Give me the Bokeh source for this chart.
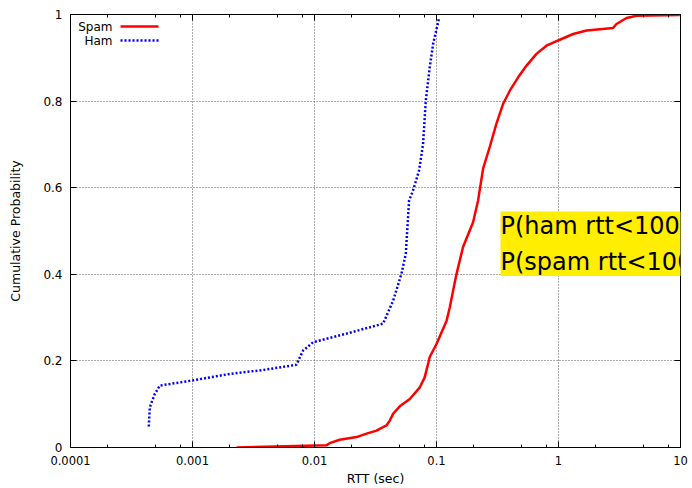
import numpy as np
from bokeh.plotting import figure
from bokeh.models import FixedTicker, LogAxis, LinearAxis, Label, Arrow, Range1d
from bokeh.embed import file_html
from bokeh.resources import INLINE

# ---- data ----
spam_rtt = [0.0023, 0.0125, 0.0133, 0.0161, 0.0221, 0.0267, 0.0322, 0.0389, 0.0414,
            0.0441, 0.050, 0.0604, 0.073, 0.080, 0.0853, 0.088, 0.1, 0.121, 0.1286,
            0.137, 0.146, 0.165, 0.1995, 0.219, 0.241, 0.273, 0.310, 0.352, 0.399,
            0.467, 0.547, 0.660, 0.797, 0.993, 1.318, 1.70, 2.80, 2.99, 3.61, 4.36, 9.87]
spam_cdf = [0.0, 0.005, 0.010, 0.018, 0.024, 0.032, 0.039, 0.051, 0.062,
            0.078, 0.095, 0.112, 0.139, 0.162, 0.193, 0.209, 0.239, 0.293, 0.324,
            0.363, 0.401, 0.463, 0.520, 0.570, 0.644, 0.694, 0.748, 0.794, 0.824,
            0.855, 0.882, 0.909, 0.928, 0.940, 0.955, 0.963, 0.969, 0.978, 0.992, 0.997, 0.999]

ham_rtt = [4.38e-4, 4.47e-4, 4.91e-4, 5.4e-4, 1.01e-3, 2.02e-3, 3.79e-3, 7.1e-3, 8.07e-3,
           9.75e-3, 0.0183, 0.0365, 0.0441, 0.0516, 0.056, 0.0596, 0.0643, 0.072,
           0.0776, 0.0817, 0.088, 0.0938, 0.105]
ham_cdf = [0.0485, 0.093, 0.124, 0.143, 0.155, 0.170, 0.179, 0.191, 0.224,
           0.243, 0.263, 0.286, 0.339, 0.401, 0.447, 0.570, 0.594, 0.640,
           0.701, 0.801, 0.878, 0.932, 0.992]

x_ticks = [1e-4, 1e-3, 1e-2, 1e-1, 1, 10]
x_tick_labels = ["0.0001", "0.001", "0.01", "0.1", "1", "10"]
x_minor = [m * d for d in [1e-4, 1e-3, 1e-2, 1e-1, 1] for m in (2, 5, 8)]
y_ticks = [0, 0.2, 0.4, 0.6, 0.8, 1]
y_tick_labels = ["0", "0.2", "0.4", "0.6", "0.8", "1"]

series_names = ["Spam", "Ham"]
note_text = "P(ham rtt<100ms) = 0.98\nP(spam rtt<100ms) = 0.24"

FONT = "DejaVu Sans"

p = figure(width=692, height=488, x_axis_type="log",
           x_range=Range1d(1e-4, 10), y_range=Range1d(0, 1),
           output_backend="svg", toolbar_location=None,
           min_border_left=70, min_border_right=12, min_border_top=14, min_border_bottom=41,
           background_fill_color="white", border_fill_color="white")
p.outline_line_color = "black"
p.outline_line_width = 1
p.outline_line_alpha = 1

xt = FixedTicker(ticks=x_ticks, minor_ticks=x_minor)
yt = FixedTicker(ticks=y_ticks, minor_ticks=[])

def style_axis(ax, labels=True):
    ax.axis_line_color = "black"
    ax.major_tick_in = 6
    ax.major_tick_out = 0
    ax.minor_tick_in = 3
    ax.minor_tick_out = 0
    ax.major_tick_line_color = "black"
    ax.minor_tick_line_color = "black"
    ax.major_label_text_font = FONT
    ax.major_label_text_font_size = "11.5px" if labels else "1px"
    ax.major_label_text_color = "black"
    if not labels:
        ax.major_label_text_alpha = 0
    ax.axis_label_text_font = FONT
    ax.axis_label_text_font_size = "12.5px"
    ax.axis_label_text_font_style = "normal"
    ax.axis_label_text_color = "black"

xa = p.xaxis[0]
xa.ticker = xt
xa.major_label_overrides = {t: l for t, l in zip(x_ticks, x_tick_labels)}
xa.axis_label = "RTT (sec)"
style_axis(xa)
xa.major_label_standoff = 8
xa.axis_label_standoff = 3

ya = p.yaxis[0]
ya.ticker = yt
ya.major_label_overrides = {t: l for t, l in zip(y_ticks, y_tick_labels)}
ya.axis_label = "Cumulative Probability"
style_axis(ya)
ya.major_label_text_font_size = "12px"
ya.minor_tick_in = 0
ya.major_label_standoff = 8
ya.axis_label_standoff = 17

top = LogAxis(ticker=xt)
style_axis(top, labels=False)
top.major_label_standoff = 0
p.add_layout(top, "above")
right = LinearAxis(ticker=yt)
style_axis(right, labels=False)
right.minor_tick_in = 0
right.major_label_standoff = 0
p.add_layout(right, "right")

for g, t in ((p.xgrid[0], xt), (p.ygrid[0], yt)):
    g.ticker = t
    g.grid_line_color = "#555555"
    g.grid_line_dash = "1 2"
    g.grid_line_width = 1

p.line(spam_rtt, spam_cdf, line_color="#ff0000", line_width=2.5)
p.line(ham_rtt, ham_cdf, line_color="#0000ff", line_width=2.5, line_dash="2 2")

# legend (gnuplot style: text then sample), in screen units relative to frame
frame_h = 488 - 14 - 41
legend_rows = [("Spam", "#ff0000", "solid", 12), ("Ham", "#0000ff", "2 2", 26)]
for name, col, dash, dy in legend_rows:
    p.add_layout(Label(x=42, y=frame_h - dy, x_units="screen", y_units="screen",
                       text=name, text_align="right", text_baseline="middle",
                       text_font=FONT, text_font_size="12px", text_color="black"))
    p.add_layout(Arrow(x_start=50, y_start=frame_h - dy, x_end=88, y_end=frame_h - dy,
                       start_units="screen", end_units="screen", end=None,
                       line_color=col, line_width=2.5, line_dash=dash))

p.add_layout(Label(x=430, y=frame_h - 197, x_units="screen", y_units="screen",
                   text=note_text, text_align="left", text_baseline="top",
                   text_font=FONT, text_font_size="24px", text_color="black",
                   text_line_height=1.3,
                   background_fill_color="#ffee00"))

open("out.html", "w").write(file_html(p, INLINE))
